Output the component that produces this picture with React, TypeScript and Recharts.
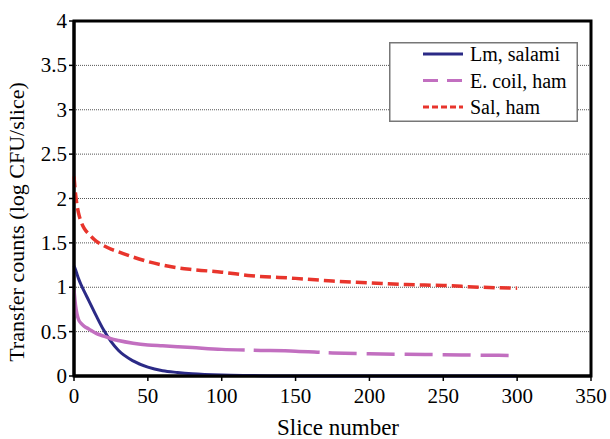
import React from "react";
import {
  LineChart,
  Line,
  XAxis,
  YAxis,
  CartesianGrid,
  ReferenceArea,
} from "recharts";

const slices = [0, 1, 2, 3, 5, 7, 10, 15, 20, 25, 30, 40, 50, 60, 70, 80, 100, 120, 150, 175, 200, 225, 250, 275, 300];
const lmSalami = [1.24, 1.2, 1.15, 1.1, 1.02, 0.95, 0.85, 0.68, 0.52, 0.39, 0.29, 0.17, 0.1, 0.06, 0.04, 0.025, 0.01, 0.005, 0, 0, 0, 0, 0, 0, 0];
const ecoliHam = [0.97, 0.8, 0.7, 0.64, 0.59, 0.56, 0.53, 0.48, 0.45, 0.42, 0.4, 0.37, 0.35, 0.34, 0.33, 0.32, 0.3, 0.29, 0.28, 0.26, 0.25, 0.245, 0.24, 0.235, 0.23];
const salHam = [2.25, 2.06, 1.93, 1.84, 1.73, 1.66, 1.6, 1.52, 1.47, 1.43, 1.4, 1.34, 1.29, 1.25, 1.22, 1.2, 1.17, 1.13, 1.1, 1.07, 1.05, 1.03, 1.02, 1.0, 0.99];

const xTicks = [0, 50, 100, 150, 200, 250, 300, 350];
const yTicks = [0, 0.5, 1, 1.5, 2, 2.5, 3, 3.5, 4];

const seriesNames = ["Lm, salami", "E. coil, ham", "Sal, ham"];

const data = slices.map((s, i) => ({
  slice: s,
  lm: lmSalami[i],
  ecoli: ecoliHam[i],
  sal: salHam[i],
}));

const FONT = "Liberation Serif, Times New Roman, serif";
const BLUE = "#2b2a86";
const PURPLE = "#c26fc0";
const RED = "#e8352c";

const ecoliDash = "203 9 66 9" + " 28 10".repeat(12);

const legendRows = [
  { name: seriesNames[0], color: BLUE, dash: undefined },
  { name: seriesNames[1], color: PURPLE, dash: "15 9" },
  { name: seriesNames[2], color: RED, dash: "6 3" },
];

const LegendBox = () => (
  <svg width={189} height={80} style={{ display: "block" }}>
    <rect x={0.75} y={0.75} width={187.5} height={78.5} fill="#fff" stroke="#777" strokeWidth={1.5} />
    {legendRows.map((r, i) => (
      <g key={r.name}>
        <line
          x1={34}
          x2={74}
          y1={12 + i * 26.5}
          y2={12 + i * 26.5}
          stroke={r.color}
          strokeWidth={3}
          strokeDasharray={r.dash}
        />
        <text x={81} y={19 + i * 26.5} fontSize={20} fontFamily={FONT} fill="#000">
          {r.name}
        </text>
      </g>
    ))}
  </svg>
);

const XTick = (props: any) => {
  const { x, y, payload } = props;
  return (
    <text x={x} y={y + 15} textAnchor="middle" fontSize={21} fontFamily={FONT} fill="#000">
      {payload.value}
    </text>
  );
};

const YTick = (props: any) => {
  const { x, y, payload } = props;
  return (
    <text x={x} y={y + 7} textAnchor="end" fontSize={21} fontFamily={FONT} fill="#000">
      {payload.value}
    </text>
  );
};

export default function App() {
  return (
    <div style={{ position: "absolute", left: 8, top: 8, width: 602, height: 431 }}>
      <LineChart
        width={602}
        height={431}
        data={data}
        margin={{ top: 13, right: 19, bottom: 3, left: 26 }}
      >
        <CartesianGrid vertical={false} stroke="#555" strokeDasharray="1 1" />
        <XAxis
          dataKey="slice"
          type="number"
          domain={[0, 350]}
          ticks={xTicks}
          height={60}
          axisLine={{ stroke: "#000", strokeWidth: 3 }}
          tickLine={{ stroke: "#000", strokeWidth: 1.5 }}
          tickSize={5}
          tickMargin={7}
          tick={<XTick />}
          label={{
            content: () => (
              <text x={330} y={427} textAnchor="middle" fontSize={23} fontFamily={FONT} fill="#000">
                Slice number
              </text>
            ),
          }}
        />
        <YAxis
          type="number"
          domain={[0, 4]}
          ticks={yTicks}
          width={40}
          axisLine={{ stroke: "#000", strokeWidth: 3 }}
          tickLine={{ stroke: "#000", strokeWidth: 1.5 }}
          tickSize={5}
          tickMargin={2}
          tick={<YTick />}
          label={{
            content: () => (
              <text
                x={16}
                y={214}
                transform="rotate(-90, 16, 214)"
                textAnchor="middle"
                fontSize={22}
                fontFamily={FONT}
                fill="#000"
              >
                Transfer counts (log CFU/slice)
              </text>
            ),
          }}
        />
        <ReferenceArea
          x1={0}
          x2={350}
          y1={0}
          y2={4}
          fill="none"
          stroke="#000"
          strokeWidth={3}
          ifOverflow="visible"
        />
        <Line
          type="monotone"
          dataKey="lm"
          name={seriesNames[0]}
          stroke={BLUE}
          strokeWidth={3}
          dot={false}
          isAnimationActive={false}
        />
        <Line
          type="monotone"
          dataKey="ecoli"
          name={seriesNames[1]}
          stroke={PURPLE}
          strokeWidth={3.5}
          strokeDasharray={ecoliDash}
          dot={false}
          isAnimationActive={false}
        />
        <Line
          type="monotone"
          dataKey="sal"
          name={seriesNames[2]}
          stroke={RED}
          strokeWidth={3.5}
          strokeDasharray="11 5"
          dot={false}
          isAnimationActive={false}
        />
      </LineChart>
      <div style={{ position: "absolute", left: 381, top: 34 }}>
        <LegendBox />
      </div>
    </div>
  );
}
